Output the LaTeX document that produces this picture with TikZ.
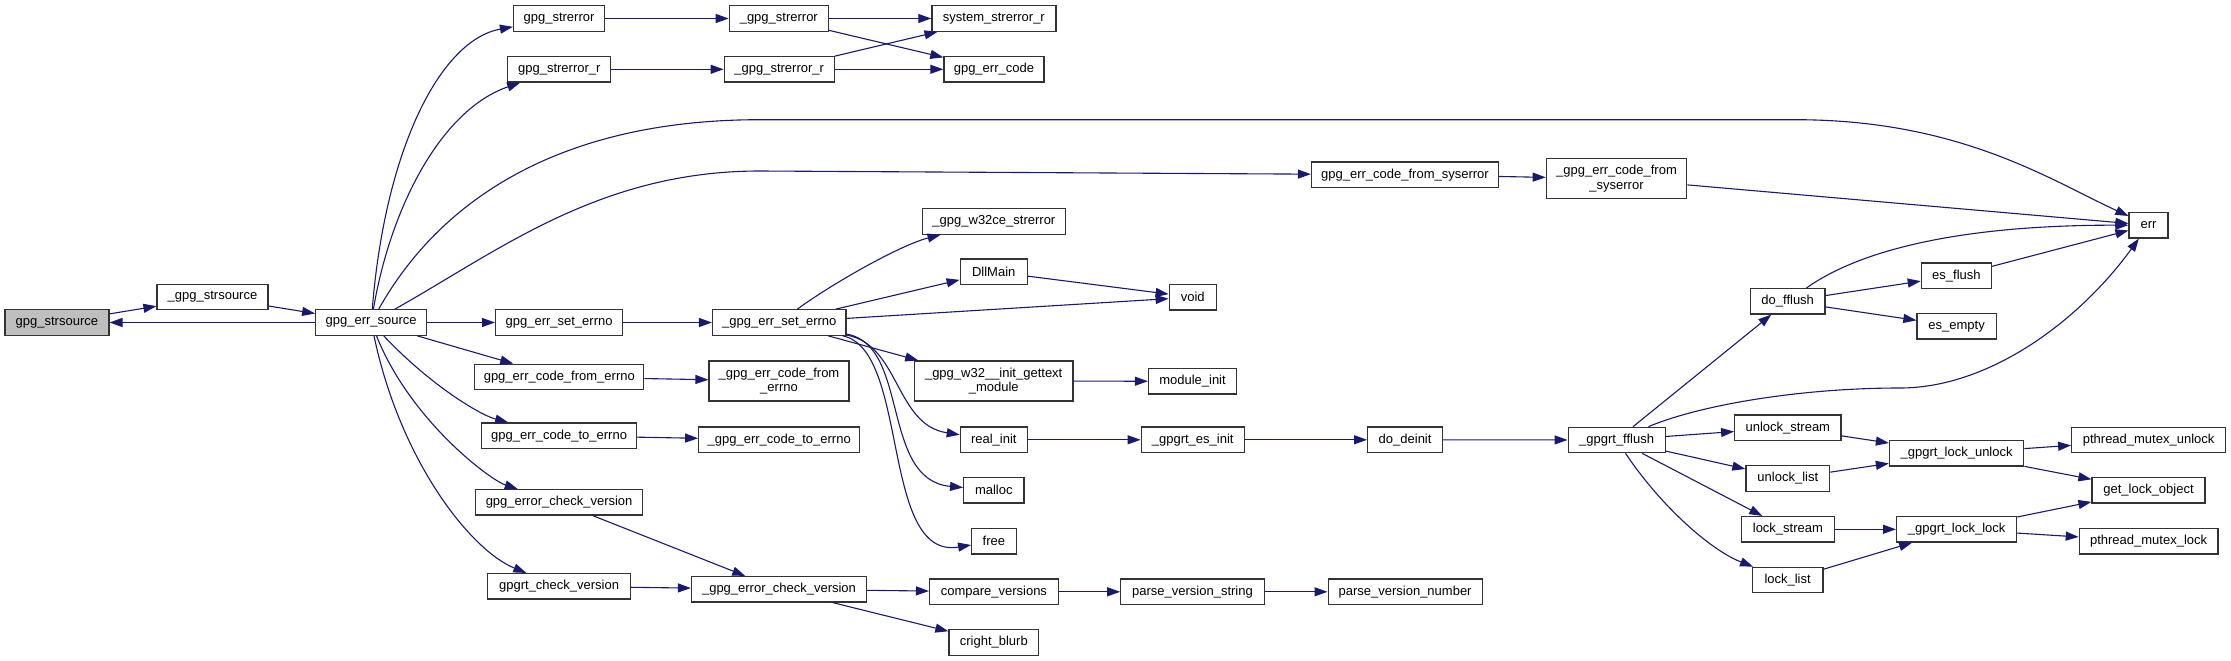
\documentclass[tikz,border=0pt]{standalone}
\usepackage{fontspec}
\setmainfont{Liberation Sans}
\usetikzlibrary{arrows.meta}
\definecolor{cedge}{HTML}{191970}
\definecolor{cbox}{HTML}{333333}
\definecolor{ccur}{HTML}{BFBFBF}

\begin{document}
\begin{tikzpicture}[x=1pt, y=-1pt,
    fn/.style={draw=cbox, fill=white, line width=1.2pt, minimum height=25.5pt,
      inner sep=0pt, font=\fontsize{13}{14.5}\selectfont, align=center},
    fn2/.style={fn, minimum height=40pt},
    cur/.style={fn, fill=ccur},
    call/.style={-{Triangle[length=13pt, width=9pt]}, cedge, line width=1.1pt}]
  \useasboundingbox (0,0) rectangle (2231,661);

  % the function and its callers
  \node[cur, minimum width=104pt] (strsrc) at (56.9,322.5) {gpg\_strsource};
  \node[fn, minimum width=111pt] (ustrsrc) at (212.5,297) {\_gpg\_strsource};
  \node[fn, minimum width=111pt] (errsrc) at (371.2,322.5) {gpg\_err\_source};

  % called from gpg_err_source
  \node[fn, minimum width=91pt] (strerr) at (559,18.5) {gpg\_strerror};
  \node[fn, minimum width=103pt] (strerrr) at (559.3,69.3) {gpg\_strerror\_r};
  \node[fn, minimum width=127pt] (seterrno) at (559.1,322.5) {gpg\_err\_set\_errno};
  \node[fn, minimum width=169pt] (cfromerrno) at (559.3,377) {gpg\_err\_code\_from\_errno};
  \node[fn, minimum width=155pt] (ctoerrno) at (559.1,435.7) {gpg\_err\_code\_to\_errno};
  \node[fn, minimum width=167pt] (echeck) at (559.1,502.3) {gpg\_error\_check\_version};
  \node[fn, minimum width=143pt] (rtcheck) at (559.1,586.3) {gpgrt\_check\_version};

  \node[fn, minimum width=99pt] (ustrerr) at (778.8,18.5) {\_gpg\_strerror};
  \node[fn, minimum width=110pt] (ustrerrr) at (779.2,69.3) {\_gpg\_strerror\_r};
  \node[fn, minimum width=133.5pt] (useterrno) at (779.3,322.5) {\_gpg\_err\_set\_errno};
  \node[fn2, minimum width=140pt] (ucfromerrno) at (779,381) {\_gpg\_err\_code\_from\\\_errno};
  \node[fn, minimum width=161pt] (uctoerrno) at (779.2,439.8) {\_gpg\_err\_code\_to\_errno};
  \node[fn, minimum width=175pt] (uecheck) at (779,589.3) {\_gpg\_error\_check\_version};

  \node[fn, minimum width=124pt] (sysstrerr) at (993.9,18.5) {system\_strerror\_r};
  \node[fn, minimum width=100pt] (errcode) at (993.9,69.3) {gpg\_err\_code};
  \node[fn, minimum width=143pt] (w32ce) at (993.9,221.5) {\_gpg\_w32ce\_strerror};
  \node[fn, minimum width=67pt] (dllmain) at (993.7,271.8) {DllMain};
  \node[fn2, minimum width=158.6pt] (gettext) at (993.7,381) {\_gpg\_w32\_\_init\_gettext\\\_module};
  \node[fn, minimum width=67pt] (realinit) at (993.8,439.8) {real\_init};
  \node[fn, minimum width=60.3pt] (malloc) at (993.8,490.3) {malloc};
  \node[fn, minimum width=44.5pt] (free) at (993.9,541.2) {free};
  \node[fn, minimum width=128.6pt] (cmpver) at (993.9,591.8) {compare\_versions};
  \node[fn, minimum width=89.7pt] (cright) at (993.8,642.5) {cright\_blurb};

  \node[fn, minimum width=47pt] (void) at (1192.7,297.2) {void};
  \node[fn, minimum width=88pt] (modinit) at (1192.5,381.3) {module\_init};
  \node[fn, minimum width=103pt] (esinit) at (1192.7,439.8) {\_gpgrt\_es\_init};
  \node[fn, minimum width=143.4pt] (pvstring) at (1192.5,591.8) {parse\_version\_string};

  \node[fn, minimum width=187pt] (fromsys) at (1405,174.7) {gpg\_err\_code\_from\_syserror};
  \node[fn, minimum width=75pt] (deinit) at (1405.1,439.8) {do\_deinit};
  \node[fn, minimum width=154pt] (pvnumber) at (1405.1,591.8) {parse\_version\_number};

  \node[fn2, minimum width=140.5pt] (ufromsys) at (1616.5,178.7) {\_gpg\_err\_code\_from\\\_syserror};
  \node[fn, minimum width=97pt] (fflush) at (1616.6,440) {\_gpgrt\_fflush};

  \node[fn, minimum width=74.6pt] (dofflush) at (1787.7,301.3) {do\_fflush};
  \node[fn, minimum width=106.3pt] (unlstream) at (1787.8,427.7) {unlock\_stream};
  \node[fn, minimum width=83.7pt] (unllist) at (1787.8,478.5) {unlock\_list};
  \node[fn, minimum width=93pt] (lstream) at (1787.9,529.3) {lock\_stream};
  \node[fn, minimum width=70.7pt] (llist) at (1787.6,580) {lock\_list};

  \node[fn, minimum width=70.2pt] (esflush) at (1956.4,275.7) {es\_flush};
  \node[fn, minimum width=79.3pt] (esempty) at (1956.6,326.3) {es\_empty};
  \node[fn, minimum width=134.3pt] (lunlock) at (1956.6,453.3) {\_gpgrt\_lock\_unlock};
  \node[fn, minimum width=120pt] (llock) at (1956.6,529.3) {\_gpgrt\_lock\_lock};

  \node[fn, minimum width=39pt] (err) at (2148.5,225.2) {err};
  \node[fn, minimum width=153.8pt] (mutexunl) at (2148.6,440) {pthread\_mutex\_unlock};
  \node[fn, minimum width=113pt] (getlock) at (2148.5,490.3) {get\_lock\_object};
  \node[fn, minimum width=138.7pt] (mutexl) at (2148.6,541.3) {pthread\_mutex\_lock};

  % calls
  \draw[call] (strsrc) -- (ustrsrc);
  \draw[call] (ustrsrc) -- (errsrc);
  \draw[call] (errsrc) -- (strsrc);

  \draw[call] (errsrc) .. controls (385,150) and (440,40) .. (strerr);
  \draw[call] (errsrc) .. controls (390,210) and (440,110) .. (strerrr);
  \draw[call] (errsrc) .. controls (440,200) and (560,119.7) .. (760,119.7) -- (1795,119.7)
    .. controls (1960,119.7) and (2050,180) .. (err);
  \draw[call] (errsrc) .. controls (500,250) and (600,171) .. (760,171) -- (fromsys);
  \draw[call] (errsrc) -- (seterrno);
  \draw[call] (errsrc) -- (cfromerrno);
  \draw[call] (errsrc) .. controls (430,385) and (480,415) .. (ctoerrno);
  \draw[call] (errsrc) .. controls (410,420) and (490,480) .. (echeck);
  \draw[call] (errsrc) .. controls (400,460) and (470,550) .. (rtcheck);

  \draw[call] (strerr) -- (ustrerr);
  \draw[call] (strerrr) -- (ustrerrr);
  \draw[call] (ustrerr) -- (sysstrerr);
  \draw[call] (ustrerr) -- (errcode);
  \draw[call] (ustrerrr) -- (sysstrerr);
  \draw[call] (ustrerrr) -- (errcode);
  \draw[call] (seterrno) -- (useterrno);
  \draw[call] (cfromerrno) -- (ucfromerrno);
  \draw[call] (ctoerrno) -- (uctoerrno);
  \draw[call] (echeck) -- (uecheck);
  \draw[call] (rtcheck) -- (uecheck);

  \draw[call] (useterrno) .. controls (830,285) and (900,245) .. (w32ce);
  \draw[call] (useterrno) -- (dllmain);
  \draw[call] (useterrno) -- (void);
  \draw[call] (useterrno) -- (gettext);
  \draw[call] (useterrno) .. controls (900,345) and (895,425) .. (realinit);
  \draw[call] (useterrno) .. controls (910,345) and (880,480) .. (malloc);
  \draw[call] (useterrno) .. controls (910,350) and (880,560) .. (free);
  \draw[call] (dllmain) -- (void);
  \draw[call] (gettext) -- (modinit);
  \draw[call] (realinit) -- (esinit);
  \draw[call] (esinit) -- (deinit);
  \draw[call] (deinit) -- (fflush);

  \draw[call] (uecheck) -- (cmpver);
  \draw[call] (uecheck) -- (cright);
  \draw[call] (cmpver) -- (pvstring);
  \draw[call] (pvstring) -- (pvnumber);

  \draw[call] (fromsys) -- (ufromsys);
  \draw[call] (ufromsys) -- (err);

  \draw[call] (fflush) -- (dofflush);
  \draw[call] (fflush) .. controls (1700,405) and (1800,388) .. (1900,388)
    .. controls (1990,388) and (2080,320) .. (err);
  \draw[call] (fflush) -- (unlstream);
  \draw[call] (fflush) -- (unllist);
  \draw[call] (fflush) -- (lstream);
  \draw[call] (fflush) .. controls (1660,505) and (1710,550) .. (llist);

  \draw[call] (dofflush) .. controls (1860,250) and (1960,225) .. (err);
  \draw[call] (dofflush) -- (esflush);
  \draw[call] (dofflush) -- (esempty);
  \draw[call] (esflush) -- (err);

  \draw[call] (unlstream) -- (lunlock);
  \draw[call] (unllist) -- (lunlock);
  \draw[call] (lstream) -- (llock);
  \draw[call] (llist) -- (llock);
  \draw[call] (lunlock) -- (mutexunl);
  \draw[call] (lunlock) -- (getlock);
  \draw[call] (llock) -- (getlock);
  \draw[call] (llock) -- (mutexl);
\end{tikzpicture}
\end{document}
